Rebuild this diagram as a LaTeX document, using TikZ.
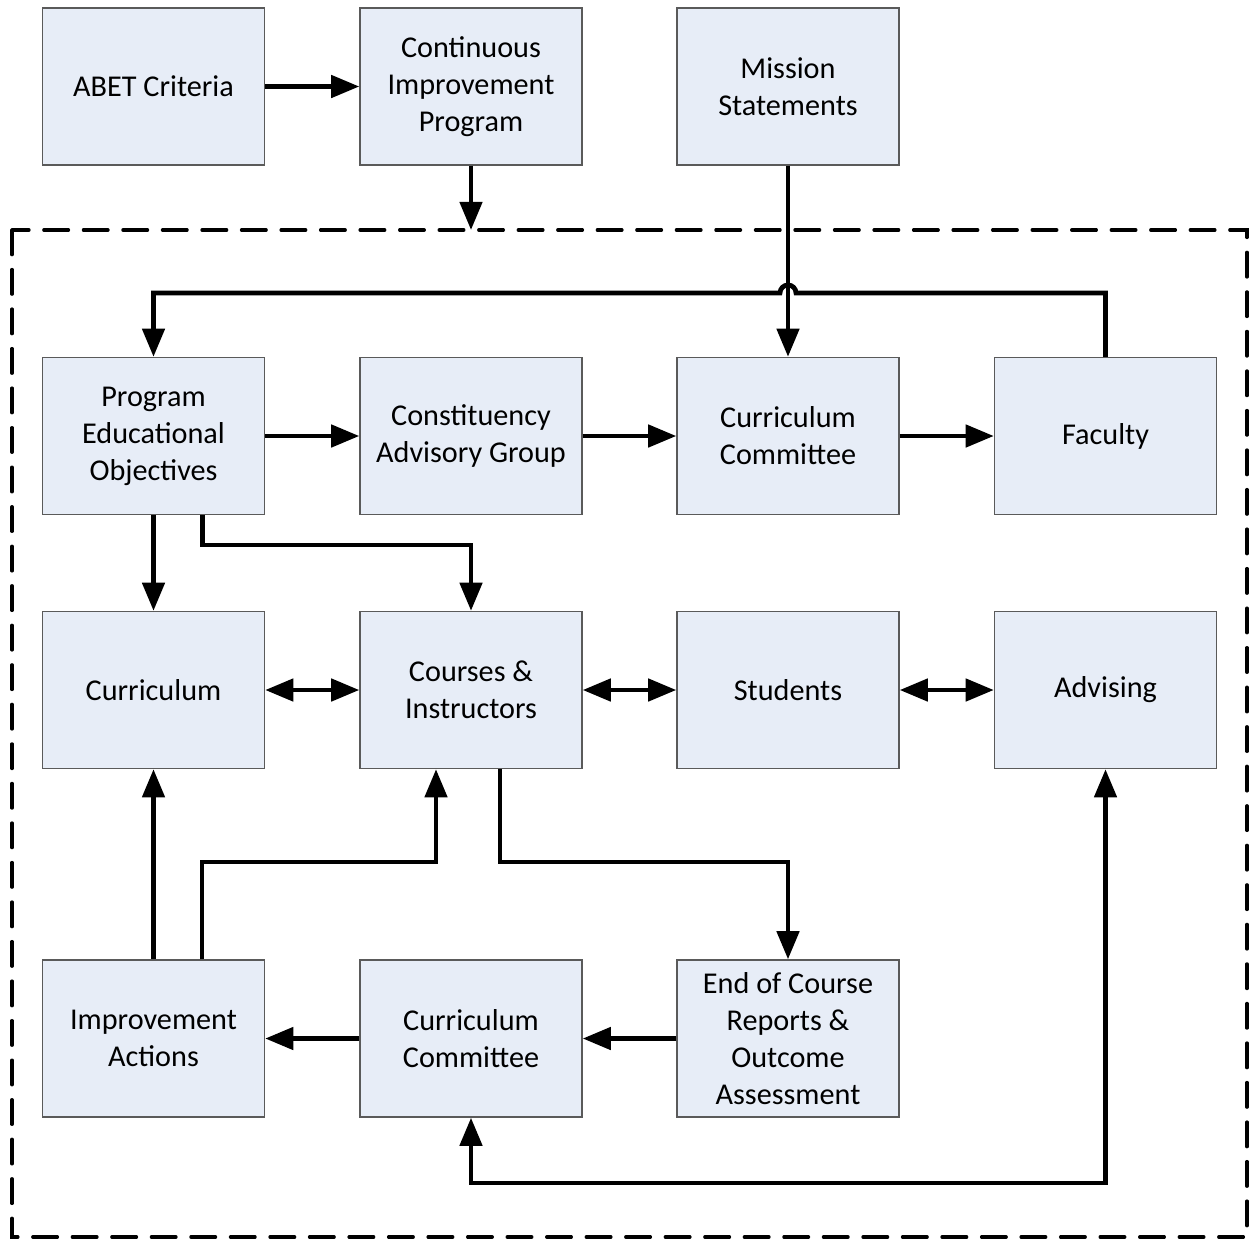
\documentclass[tikz,border=0pt]{standalone}
\usepackage{fontspec}
\setmainfont{Carlito}
\usetikzlibrary{arrows.meta,calc}
\definecolor{boxfill}{RGB}{231,237,247}
\definecolor{boxline}{RGB}{90,90,90}
\tikzset{
  box/.style={draw=boxline, line width=0.8pt, fill=boxfill, minimum width=4.44cm, minimum height=3.14cm, align=center, inner sep=2pt, font=\fontsize{17.2}{21}\selectfont},
  arr/.style={line width=2.7pt, -{Triangle[length=16pt,width=12.5pt]}},
  arrb/.style={line width=2.7pt, {Triangle[length=16pt,width=12.5pt]}-{Triangle[length=16pt,width=12.5pt]}},
  dashbox/.style={line width=1.9pt, dash pattern=on 14pt off 8.5pt, line cap=round}
}
\begin{document}
\begin{tikzpicture}[x=0.02cm,y=0.02cm]
\useasboundingbox (0,0) rectangle (1250,-1245);
\draw[dashbox] (12,-230) rectangle (1247,-1237);
\coordinate (dtop) at (0,-230);
\coordinate (jumpy) at (0,-293);
\coordinate (ya) at (0,-545);
\coordinate (yb) at (0,-862);
\coordinate (yc) at (0,-1183);
% row 0
\node[box] (abet) at (153.5,-86.5) {ABET Criteria};
\node[box] (cip) at (471,-86.5) {Continuous\\Improvement\\Program};
\node[box] (ms) at (788,-86.5) {Mission\\Statements};
% row 1
\node[box] (peo) at (153.5,-436) {Program\\Educational\\Objectives};
\node[box] (cag) at (471,-436) {Constituency\\Advisory Group};
\node[box] (cc1) at (788,-436) {Curriculum\\Committee};
\node[box] (fac) at (1105.5,-436) {Faculty};
% row 2
\node[box] (cur) at (153.5,-690) {Curriculum};
\node[box] (ci) at (471,-690) {Courses \&\\Instructors};
\node[box] (stu) at (788,-690) {Students};
\node[box] (adv) at (1105.5,-690) {Advising};
% row 3
\node[box] (ia) at (153.5,-1038.5) {Improvement\\Actions};
\node[box] (cc2) at (471,-1038.5) {Curriculum\\Committee};
\node[box] (eoc) at (788,-1038.5) {End of Course\\Reports \&\\Outcome\\Assessment};
% connectors
\draw[arr] (abet.east) -- (cip.west);
\draw[arr] (cip.south) -- (cip.south |- dtop);
\draw[arr] (ms.south) -- (cc1.north);
\draw[arr] (fac.north) -- (fac.north |- jumpy) -- ($(ms.south |- jumpy)+(8,0)$) arc (0:180:8) -- (peo.north |- jumpy) -- (peo.north);
\draw[arr] (peo.east) -- (cag.west);
\draw[arr] (cag.east) -- (cc1.west);
\draw[arr] (cc1.east) -- (fac.west);
\draw[arr] (peo.south) -- (cur.north);
\draw[arr] ([xshift=0.98cm]peo.south) -- ([xshift=0.98cm]peo.south |- ya) -| (ci.north);
\draw[arrb] (cur.east) -- (ci.west);
\draw[arrb] (ci.east) -- (stu.west);
\draw[arrb] (stu.east) -- (adv.west);
\draw[arr] (ia.north) -- (cur.south);
\draw[arr] ([xshift=0.97cm]ia.north) -- ([xshift=0.97cm]ia.north |- yb) -| ([xshift=-0.7cm]ci.south);
\draw[arr] ([xshift=0.58cm]ci.south) -- ([xshift=0.58cm]ci.south |- yb) -| (eoc.north);
\draw[arr] (eoc.west) -- (cc2.east);
\draw[arr] (cc2.west) -- (ia.east);
\draw[arrb] (cc2.south) -- (cc2.south |- yc) -| (adv.south);
\end{tikzpicture}
\end{document}
